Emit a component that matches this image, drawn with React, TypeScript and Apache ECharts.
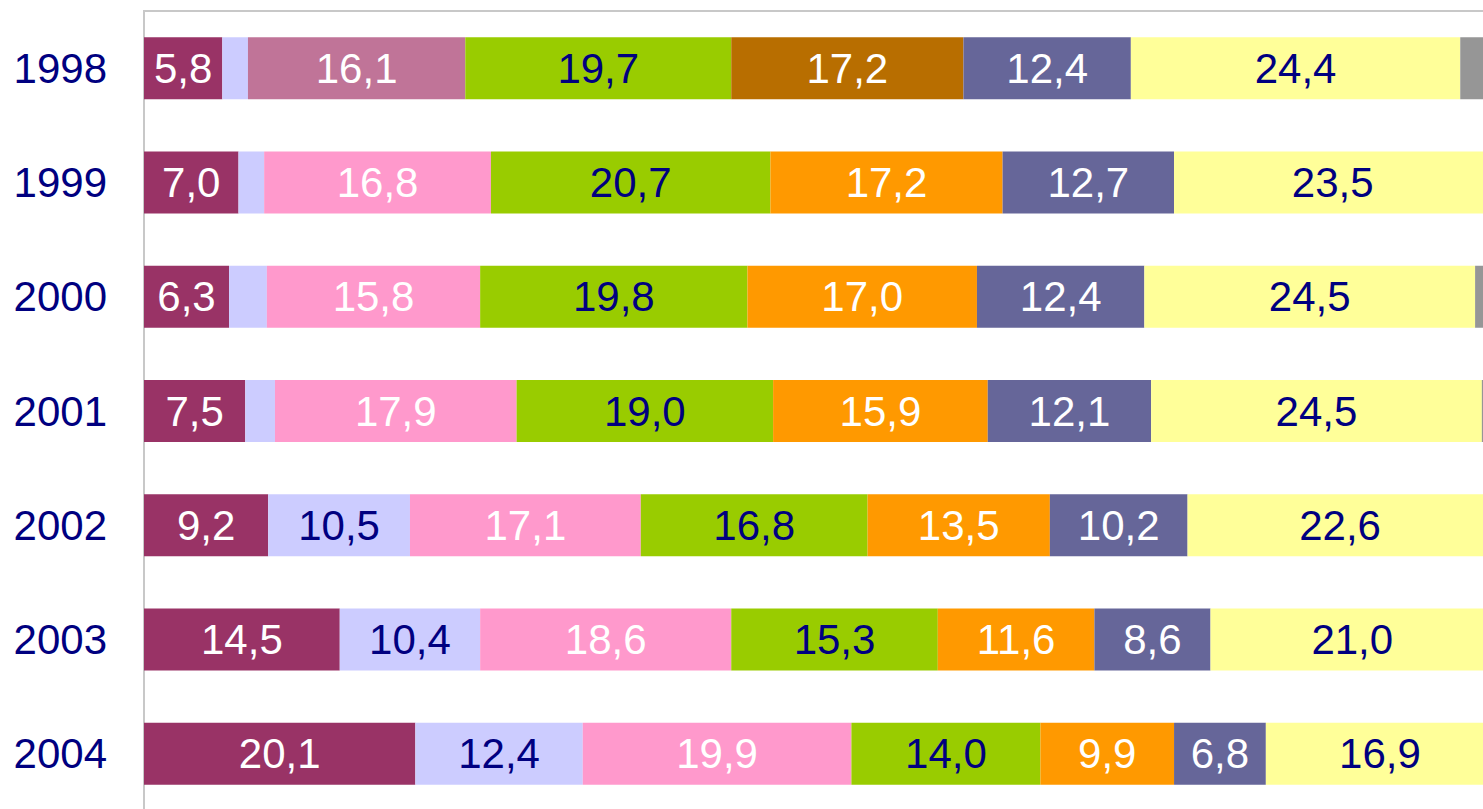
import React, { useEffect, useRef } from "react";
import * as echarts from "echarts";

const years = ["1998", "1999", "2000", "2001", "2002", "2003", "2004"];

const seg1 = [5.8, 7.0, 6.3, 7.5, 9.2, 14.5, 20.1];
const seg2 = [1.9, 1.9, 2.8, 2.2, 10.5, 10.4, 12.4];
const seg3 = [16.1, 16.8, 15.8, 17.9, 17.1, 18.6, 19.9];
const seg4 = [19.7, 20.7, 19.8, 19.0, 16.8, 15.3, 14.0];
const seg5 = [17.2, 17.2, 17.0, 15.9, 13.5, 11.6, 9.9];
const seg6 = [12.4, 12.7, 12.4, 12.1, 10.2, 8.6, 6.8];
const seg7 = [24.4, 23.5, 24.5, 24.5, 22.6, 21.0, 16.9];
const seg8 = [2.5, 0.2, 1.4, 0.9, 0.1, 0, 0];

const seriesData = [seg1, seg2, seg3, seg4, seg5, seg6, seg7, seg8];
const seriesColors = ["#993366", "#CCCCFF", "#FF99CC", "#99CC00", "#FF9900", "#666699", "#FFFF99", "#969696"];
const labelColors = ["#FFFFFF", "#000080", "#FFFFFF", "#000080", "#FFFFFF", "#FFFFFF", "#000080", "#000080"];
// 1998 highlighted points use a darker shade
const overrides: Record<number, string> = { 2: "#C07498", 4: "#B86E00" };

export default function App() {
  const ref = useRef<HTMLDivElement>(null);
  useEffect(() => {
    if (!ref.current) return;
    const chart = echarts.init(ref.current, undefined, { renderer: "svg" });
    const font = "Arial, 'Liberation Sans', sans-serif";
    chart.setOption({
      animation: false,
      backgroundColor: "#FFFFFF",
      grid: {
        left: 144,
        top: 11,
        width: 1350,
        height: 800,
        show: true,
        borderColor: "#C8C8C8",
        borderWidth: 2,
        backgroundColor: "transparent",
      },
      xAxis: {
        type: "value",
        min: 0,
        max: 100,
        axisLabel: { show: false },
        axisLine: { show: false },
        axisTick: { show: false },
        splitLine: { show: false },
      },
      yAxis: {
        type: "category",
        inverse: true,
        data: years,
        axisLine: { show: false },
        axisTick: { show: false },
        axisLabel: { color: "#000080", fontSize: 42, fontFamily: font, margin: 37 },
      },
      series: seriesData.map((arr, si) => ({
        type: "bar",
        name: "S" + (si + 1),
        stack: "total",
        barWidth: 62,
        itemStyle: { color: seriesColors[si] },
        label: {
          show: si < 7,
          position: "inside",
          color: labelColors[si],
          fontSize: 42,
          fontFamily: font,
          formatter: (p: any) => (p.value < 3 ? "" : Number(p.value).toFixed(1).replace(".", ",")),
        },
        data: arr.map((v, i) =>
          i === 0 && overrides[si] ? { value: v, itemStyle: { color: overrides[si] } } : v
        ),
      })),
    });
    return () => chart.dispose();
  }, []);
  return (
    <div style={{ position: "fixed", left: 0, top: 0, width: 1483, height: 809, overflow: "hidden", background: "#fff" }}>
      <div ref={ref} style={{ width: 1520, height: 830 }} />
    </div>
  );
}
